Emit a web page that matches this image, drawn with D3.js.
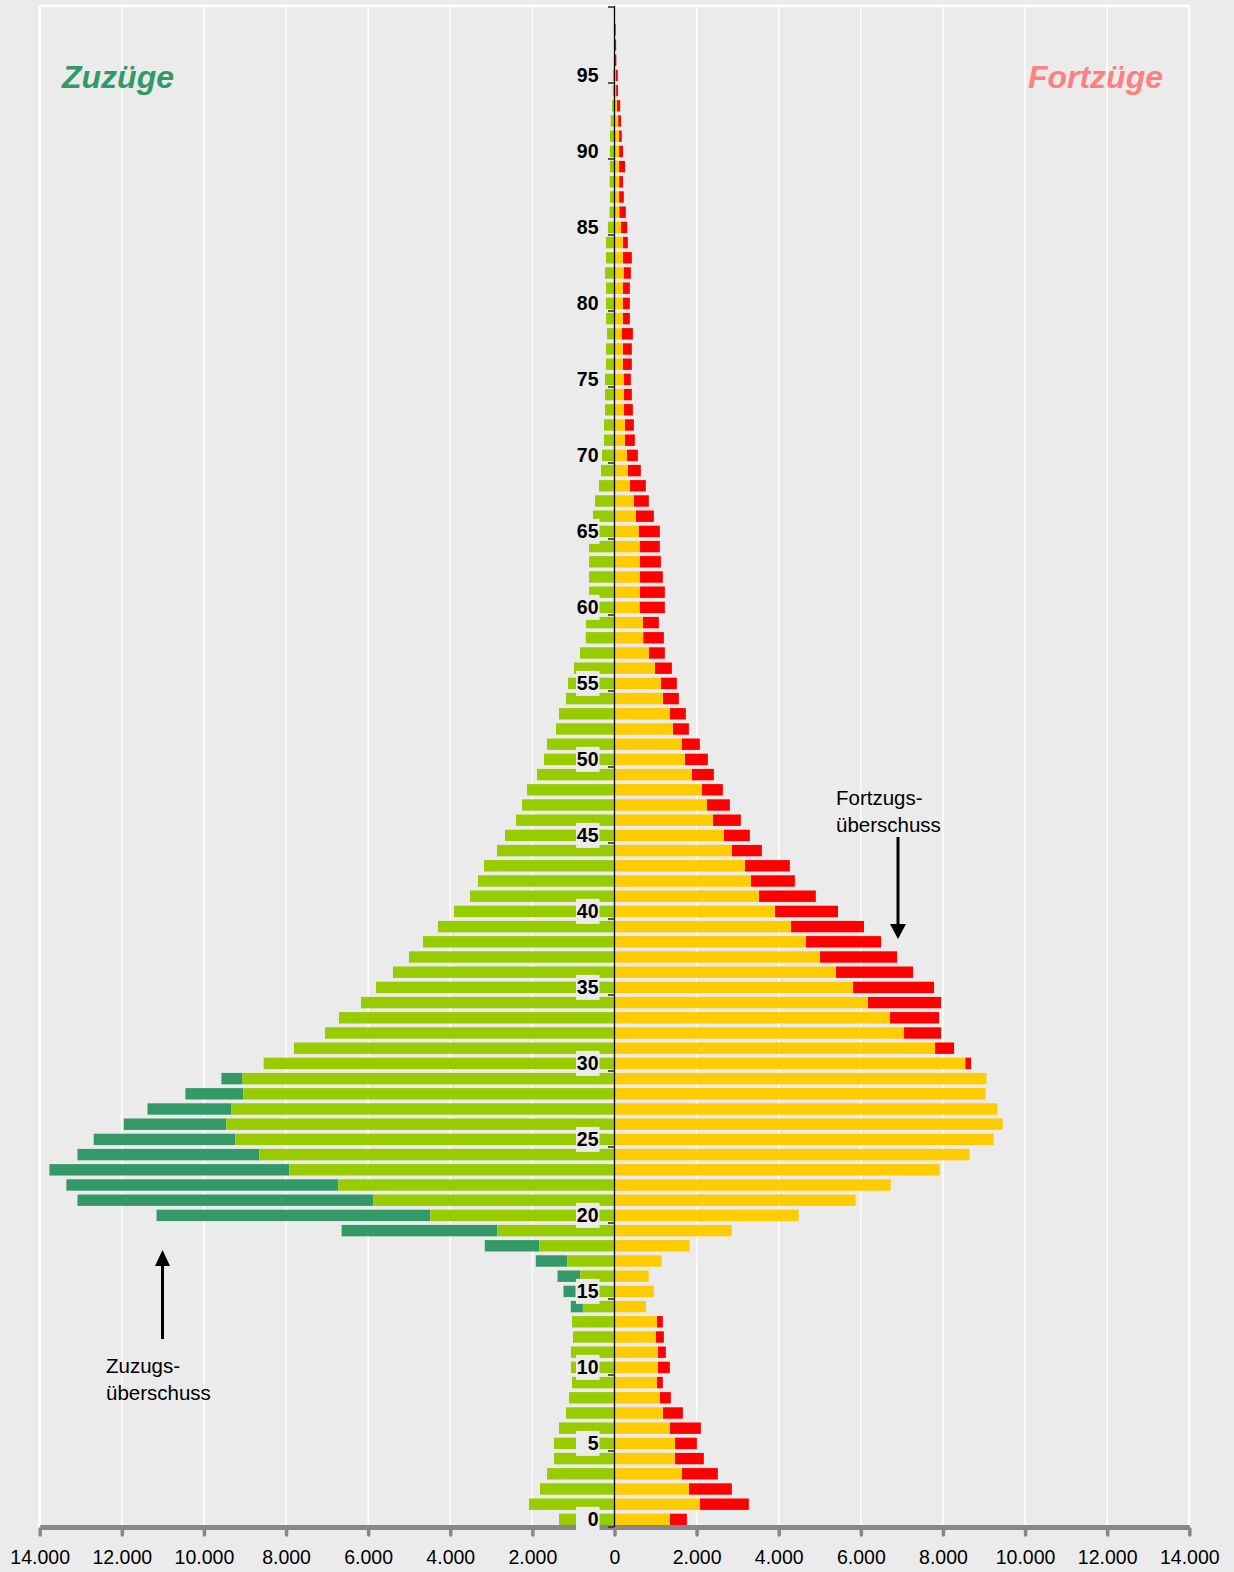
<!DOCTYPE html>
<html>
<head>
<meta charset="utf-8">
<script src="https://cdn.jsdelivr.net/npm/d3@7/dist/d3.min.js"></script>
<style>
  html, body { margin: 0; padding: 0; background: #ebebeb; }
  svg { display: block; font-family: "Liberation Sans", Arial, sans-serif; }
</style>
</head>
<body>
<svg id="chart" width="1234" height="1572"></svg>
<script>
// ---- data (ages 0..99) ----
const ages = d3.range(0, 100);
const zuzuege = [
  1352, 2083, 1815, 1644, 1474, 1474, 1352, 1182, 1108, 1035,
  1060, 1060, 1011, 1035, 1066, 1243, 1387, 1917, 3159, 6646,
  11154, 13080, 13350, 13764, 13080, 12685, 11953, 11375, 10451, 9574,
  8545, 7808, 7052, 6711, 6175, 5810, 5396, 5006, 4665, 4300,
  3910, 3520, 3325, 3179, 2862, 2667, 2400, 2253, 2131, 1888,
  1717, 1644, 1425, 1352, 1182, 1133, 987, 840, 700, 694,
  617, 620, 620, 620, 620, 593, 524, 475, 378, 329,
  305, 256, 256, 231, 231, 231, 207, 207, 183, 207,
  207, 207, 230, 207, 208, 160, 120, 112, 115, 112,
  112, 110, 92, 60, 40, 35, 5, 5, 5, 15
];
const fortzuege = [
  1762, 3272, 2858, 2517, 2176, 2006, 2103, 1665, 1372, 1177,
  1348, 1250, 1202, 1177, 770, 958, 832, 1150, 1830, 2855,
  4485, 5873, 6727, 7920, 8650, 9235, 9455, 9330, 9040, 9060,
  8685, 8270, 7954, 7905, 7954, 7783, 7272, 6882, 6492, 6077,
  5444, 4904, 4393, 4271, 3589, 3297, 3077, 2810, 2639, 2420,
  2274, 2079, 1811, 1738, 1567, 1518, 1397, 1226, 1202, 1080,
  1226, 1226, 1177, 1129, 1104, 1104, 958, 836, 763, 641,
  568, 495, 471, 447, 422, 398, 422, 422, 447, 374,
  374, 374, 398, 422, 325, 310, 276, 227, 207, 256,
  207, 177, 158, 138, 85, 80, 45, 40, 30, 15
];
const xTicks = d3.range(-14000, 14001, 2000);
const ageLabels = d3.range(0, 100, 5);
const ageTicks = d3.range(0, 101, 5);

const colors = {
  common_left: "#99cc00",
  surplus_left: "#339966",
  common_right: "#ffcc00",
  surplus_right: "#ff0000"
};

// ---- build ----
const svg = d3.select("#chart");
const W = 1234, H = 1572;
const x = d3.scaleLinear().domain([-14000, 14000]).range([39.7, 1189.3]);
const yTop = 7, yBottom = 1527;
const y = d3.scaleBand().domain(ages).range([yBottom, yTop]).paddingInner(0.25).paddingOuter(0.125);
const ageY = d3.scaleLinear().domain([0, 100]).range([yBottom, yTop]);

svg.append("rect").attr("width", W).attr("height", H).attr("fill", "#ebebeb");

// gridlines
svg.append("g").selectAll("line").data(xTicks).join("line")
  .attr("x1", d => x(d)).attr("x2", d => x(d))
  .attr("y1", yTop - 1).attr("y2", yBottom)
  .attr("stroke", "#ffffff").attr("stroke-width", d => Math.abs(d) === 14000 ? 2.5 : 1.5);
// top border
svg.append("line").attr("x1", x(-14000)).attr("x2", x(14000)).attr("y1", yTop - 1).attr("y2", yTop - 1)
  .attr("stroke", "#ffffff").attr("stroke-width", 2.5);

const rows = ages.map((a, i) => {
  const z = zuzuege[i], f = fortzuege[i], m = Math.min(z, f);
  return { age: a, z, f, m };
});

const bars = svg.append("g");
// left: Zuzüge
bars.selectAll("rect.zs").data(rows.filter(d => d.z > d.m)).join("rect").attr("class", "zs")
  .attr("x", d => x(-d.z)).attr("width", d => x(-d.m) - x(-d.z))
  .attr("y", d => y(d.age)).attr("height", y.bandwidth()).attr("fill", colors.surplus_left);
bars.selectAll("rect.zc").data(rows).join("rect").attr("class", "zc")
  .attr("x", d => x(-d.m)).attr("width", d => x(0) - x(-d.m))
  .attr("y", d => y(d.age)).attr("height", y.bandwidth()).attr("fill", colors.common_left);
// right: Fortzüge
bars.selectAll("rect.fc").data(rows).join("rect").attr("class", "fc")
  .attr("x", x(0)).attr("width", d => x(d.m) - x(0))
  .attr("y", d => y(d.age)).attr("height", y.bandwidth()).attr("fill", colors.common_right);
bars.selectAll("rect.fs").data(rows.filter(d => d.f > d.m)).join("rect").attr("class", "fs")
  .attr("x", d => x(d.m)).attr("width", d => x(d.f) - x(d.m))
  .attr("y", d => y(d.age)).attr("height", y.bandwidth()).attr("fill", colors.surplus_right);

// bottom axis
const loc = d3.formatLocale({ decimal: ",", thousands: ".", grouping: [3], currency: ["", " €"] });
const fmt = loc.format(",.0f");
const axis = d3.axisBottom(x).tickValues(xTicks).tickSizeInner(8).tickSizeOuter(0)
  .tickFormat(d => fmt(Math.abs(d)));
const gx = svg.append("g").attr("transform", `translate(0,${yBottom})`).call(axis);
gx.select(".domain").attr("stroke", "#878787").attr("stroke-width", 5);
gx.selectAll(".tick line").attr("stroke", "#878787").attr("stroke-width", 3.5).attr("stroke-linecap", "round").attr("y1", 2);
gx.selectAll(".tick text").attr("fill", "#000").attr("font-size", "19.5px")
  .attr("font-family", "'Liberation Sans', Arial, sans-serif").attr("y", 37).attr("dy", 0);

// zero line
svg.append("line").attr("x1", x(0)).attr("x2", x(0)).attr("y1", yTop - 1).attr("y2", yBottom)
  .attr("stroke", "#000").attr("stroke-width", 1.3);
// age ticks
svg.append("g").selectAll("line").data(ageTicks).join("line")
  .attr("x1", x(0) - 6.5).attr("x2", x(0))
  .attr("y1", d => ageY(d)).attr("y2", d => ageY(d))
  .attr("stroke", "#333").attr("stroke-width", 1.6);

// age labels with background boxes
const lab = svg.append("g");
lab.selectAll("rect").data(ageLabels).join("rect")
  .attr("x", x(0) - 38.5).attr("width", 23.5)
  .attr("y", d => y(d) + y.bandwidth() / 2 - 12.5).attr("height", 25)
  .attr("fill", "#ebebeb");
lab.selectAll("text").data(ageLabels).join("text")
  .attr("x", x(0) - 16).attr("y", d => y(d) + y.bandwidth() / 2 + 7)
  .attr("text-anchor", "end").attr("font-weight", "bold").attr("font-size", "19.5px")
  .attr("fill", "#000").text(d => d);

// titles
svg.append("text").attr("x", 62).attr("y", 88).attr("font-size", "32px").attr("font-weight", "bold")
  .attr("font-style", "italic").attr("fill", "#339966").text("Zuzüge");
svg.append("text").attr("x", 1163).attr("y", 88).attr("text-anchor", "end").attr("font-size", "32px").attr("font-weight", "bold")
  .attr("font-style", "italic").attr("fill", "#ff8080").text("Fortzüge");

// annotations
function note(x0, yb, lines) {
  const t = svg.append("text").attr("font-size", "20.5px").attr("fill", "#000");
  lines.forEach((s, i) => t.append("tspan").attr("x", x0).attr("y", yb + i * 27).text(s));
}
note(836, 805, ["Fortzugs-", "überschuss"]);
note(106, 1373, ["Zuzugs-", "überschuss"]);

// arrows
svg.append("line").attr("x1", 898).attr("x2", 898).attr("y1", 837).attr("y2", 926)
  .attr("stroke", "#000").attr("stroke-width", 3);
svg.append("path").attr("d", "M890,924 L906,924 L898,939 Z").attr("fill", "#000");
svg.append("line").attr("x1", 162.5).attr("x2", 162.5).attr("y1", 1339).attr("y2", 1264)
  .attr("stroke", "#000").attr("stroke-width", 3);
svg.append("path").attr("d", "M155,1266 L170,1266 L162.5,1250 Z").attr("fill", "#000");
</script>
</body>
</html>
